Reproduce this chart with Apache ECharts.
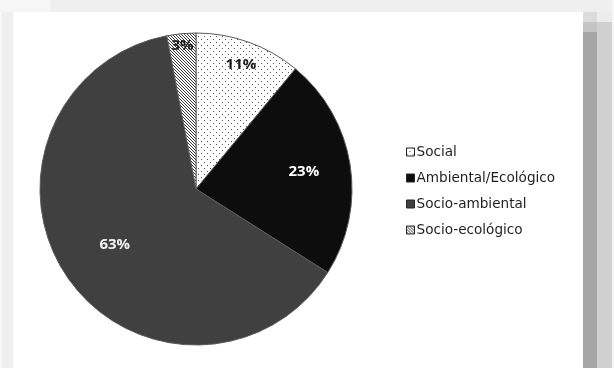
<!DOCTYPE html>
<html>
<head>
<meta charset="utf-8">
<script src="https://cdn.jsdelivr.net/npm/echarts@6/dist/echarts.min.js"></script>
<style>
html,body{margin:0;padding:0;background:#efefef;}
#c{width:614px;height:368px;}
</style>
</head>
<body>
<div id="c"></div>
<script>
const categories = ['Social', 'Ambiental/Ecológico', 'Socio-ambiental', 'Socio-ecológico'];
const values = [11, 23, 63, 3];
const labels = ['11%', '23%', '63%', '3%'];

function makePattern(type) {
  const cv = document.createElement('canvas');
  const ctx = cv.getContext('2d');
  if (type === 'dots') {
    cv.width = 6; cv.height = 6;
    ctx.fillStyle = '#ffffff'; ctx.fillRect(0, 0, 6, 6);
    ctx.fillStyle = '#555555';
    ctx.fillRect(0, 0, 1, 1);
    ctx.fillRect(3, 3, 1, 1);
  } else {
    cv.width = 3; cv.height = 3;
    ctx.fillStyle = '#ffffff'; ctx.fillRect(0, 0, 3, 3);
    ctx.fillStyle = '#3a3a3a';
    ctx.fillRect(0, 0, 1, 1);
    ctx.fillRect(1, 1, 1, 1);
    ctx.fillRect(2, 2, 1, 1);
  }
  return { image: cv, repeat: 'repeat' };
}

const fills = [makePattern('dots'), '#0d0d0d', '#404040', makePattern('hatch')];
const labelColors = ['#1a1a1a', '#ffffff', '#f2f2f2', '#1a1a1a'];
const labelRadius = [0.85, 0.70, 0.63, 0.92];

const CX = 196, CY = 189, R = 156;
const total = values.reduce((a, b) => a + b, 0);

const chart = echarts.init(document.getElementById('c'), null, { renderer: 'canvas' });
chart.setOption({
  backgroundColor: '#efefef',
  animation: false,
  graphic: [
    { type: 'rect', shape: { x: 0, y: 0, width: 50, height: 12 }, style: { fill: '#f6f6f6' }, silent: true },
    { type: 'rect', shape: { x: 0, y: 12, width: 2, height: 356 }, style: { fill: '#f8f8f8' }, silent: true },
    { type: 'rect', shape: { x: 13, y: 12, width: 570, height: 356 }, style: { fill: '#ffffff' }, silent: true },
    { type: 'rect', shape: { x: 583, y: 12, width: 14, height: 10 }, style: { fill: '#dcdcdc' }, silent: true },
    { type: 'rect', shape: { x: 583, y: 22, width: 14, height: 10 }, style: { fill: '#c4c4c4' }, silent: true },
    { type: 'rect', shape: { x: 583, y: 32, width: 14, height: 336 }, style: { fill: '#a6a6a6' }, silent: true },
    { type: 'rect', shape: { x: 597, y: 12, width: 15, height: 10 }, style: { fill: '#ececec' }, silent: true },
    { type: 'rect', shape: { x: 597, y: 22, width: 15, height: 346 }, style: { fill: '#d0d0d0' }, silent: true },
    { type: 'rect', shape: { x: 612, y: 0, width: 2, height: 368 }, style: { fill: '#f6f6f6' }, silent: true }
  ],
  legend: {
    orient: 'vertical',
    left: 401,
    top: 140,
    itemWidth: 8,
    itemHeight: 8,
    itemGap: 12,
    icon: 'rect',
    itemStyle: { borderColor: '#262626', borderWidth: 1 },
    textStyle: { fontFamily: 'DejaVu Sans', fontSize: 13.6, color: '#1e1e1e', lineHeight: 14, padding: [0, 0, 0, -3] },
    data: categories
  },
  series: [{
    type: 'pie',
    center: [CX, CY],
    radius: R,
    startAngle: 90,
    clockwise: true,
    avoidLabelOverlap: false,
    labelLine: { show: false },
    itemStyle: { borderColor: '#5a5a5a', borderWidth: 1 },
    label: {
      show: true,
      position: 'inside',
      fontFamily: 'Open Sans',
      fontWeight: 'bold',
      fontSize: 15,
      formatter: p => labels[p.dataIndex]
    },
    labelLayout: function (params) {
      const i = params.dataIndex;
      let before = 0;
      for (let k = 0; k < i; k++) before += values[k];
      const mid = (before + values[i] / 2) / total * Math.PI * 2;
      const r = R * labelRadius[i];
      return {
        x: CX + r * Math.sin(mid),
        y: CY - r * Math.cos(mid),
        align: 'center',
        verticalAlign: 'middle'
      };
    },
    data: categories.map((name, i) => ({
      name: name,
      value: values[i],
      itemStyle: { color: fills[i] },
      label: { color: labelColors[i] }
    }))
  }]
});
</script>
</body>
</html>
